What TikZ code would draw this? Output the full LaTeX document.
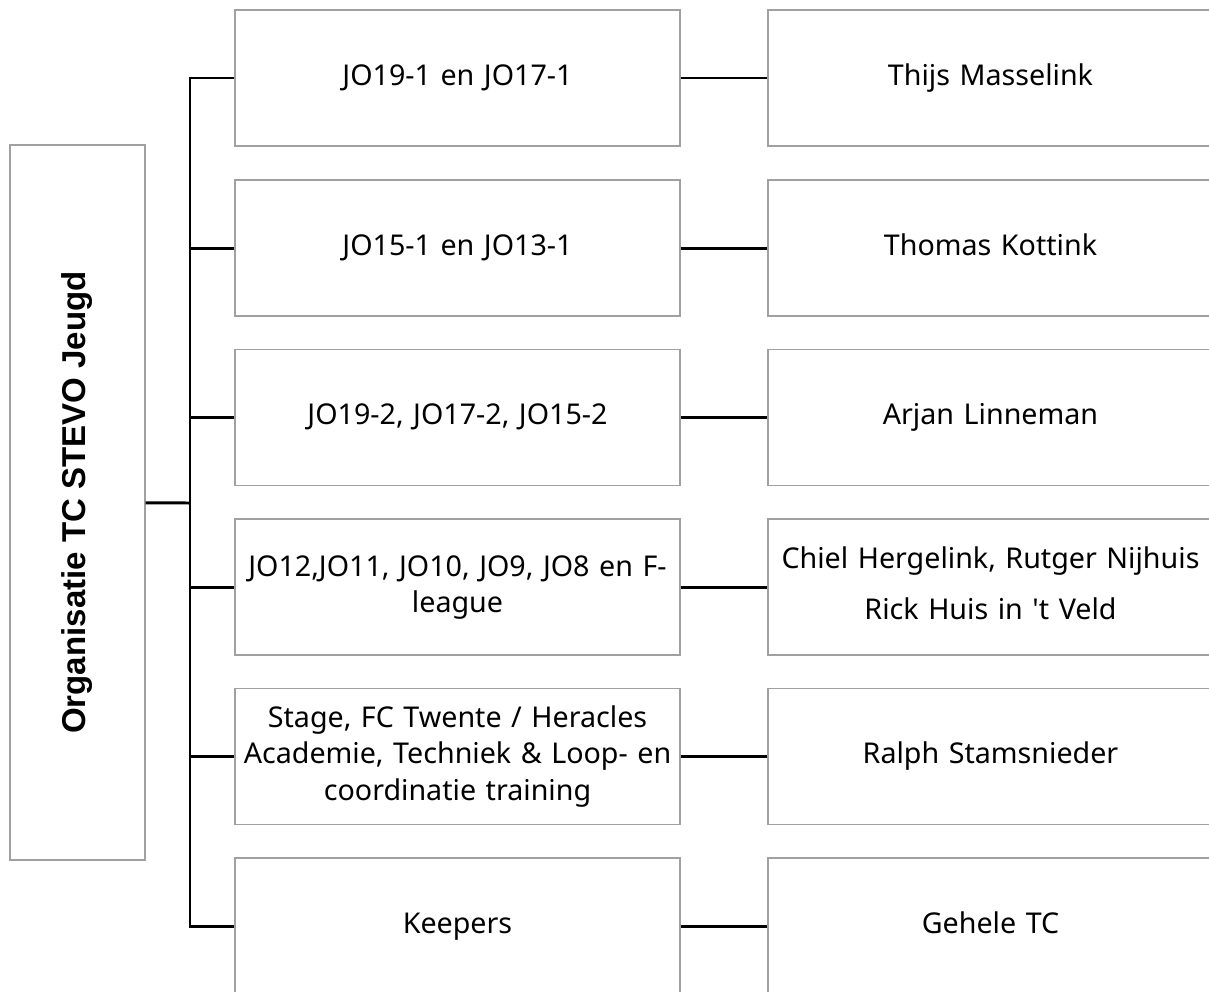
\documentclass[tikz,border=0pt]{standalone}
\usepackage{fontspec}
\setmainfont{Noto Sans}
\newfontfamily\titlefont{Liberation Sans}
\definecolor{boxgray}{RGB}{160,160,160}

\begin{document}
\begin{tikzpicture}[x=0.02cm,y=-0.02cm,
  box/.style={draw=boxgray,line width=0.7pt,inner sep=0pt,minimum height=2.72cm,text width=8.9cm,align=center,font=\fontsize{16.3}{20.7}\selectfont,execute at begin node=\strut,execute at end node=\strut},
  link/.style={line width=1.7pt}]
\clip (0,0) rectangle (1209,991);
\path (77.5,502.5) node[draw=boxgray,line width=0.7pt,rotate=90,inner sep=0pt,minimum width=14.3cm,minimum height=2.7cm,font=\titlefont\bfseries\fontsize{18.8}{22}\selectfont](org){\strut Organisatie TC STEVO Jeugd}
 (190,503) coordinate(bus)
 (457.5,78) node[box](g1){JO19-1 en JO17-1} (990.5,78) node[box](t1){Thijs Masselink}
 (457.5,248) node[box](g2){JO15-1 en JO13-1} (990.5,248) node[box](t2){Thomas Kottink}
 (457.5,417.5) node[box](g3){JO19-2, JO17-2, JO15-2} (990.5,417.5) node[box](t3){Arjan Linneman}
 (457.5,587) node[box](g4){JO12,JO11, JO10, JO9, JO8 en F-\\league} (990.5,587) node[box](t4){Chiel Hergelink, Rutger Nijhuis\\[0.3cm]Rick Huis in \textquotesingle t Veld}
 (457.5,756.5) node[box](g5){Stage, FC Twente / Heracles\\Academie, Techniek \& Loop- en\\coordinatie training} (990.5,756.5) node[box](t5){Ralph Stamsnieder}
 (457.5,926) node[box](g6){Keepers} (990.5,926) node[box](t6){Gehele TC};

\draw[link] (org) -- (bus);
\draw[link] (bus) |- (g1.west);
\draw[link] (bus) |- (g2.west);
\draw[link] (bus) |- (g3.west);
\draw[link] (bus) |- (g4.west);
\draw[link] (bus) |- (g5.west);
\draw[link] (bus) |- (g6.west);
\draw[link] (g1) -- (t1);
\draw[link] (g2) -- (t2);
\draw[link] (g3) -- (t3);
\draw[link] (g4) -- (t4);
\draw[link] (g5) -- (t5);
\draw[link] (g6) -- (t6);
\end{tikzpicture}
\end{document}
